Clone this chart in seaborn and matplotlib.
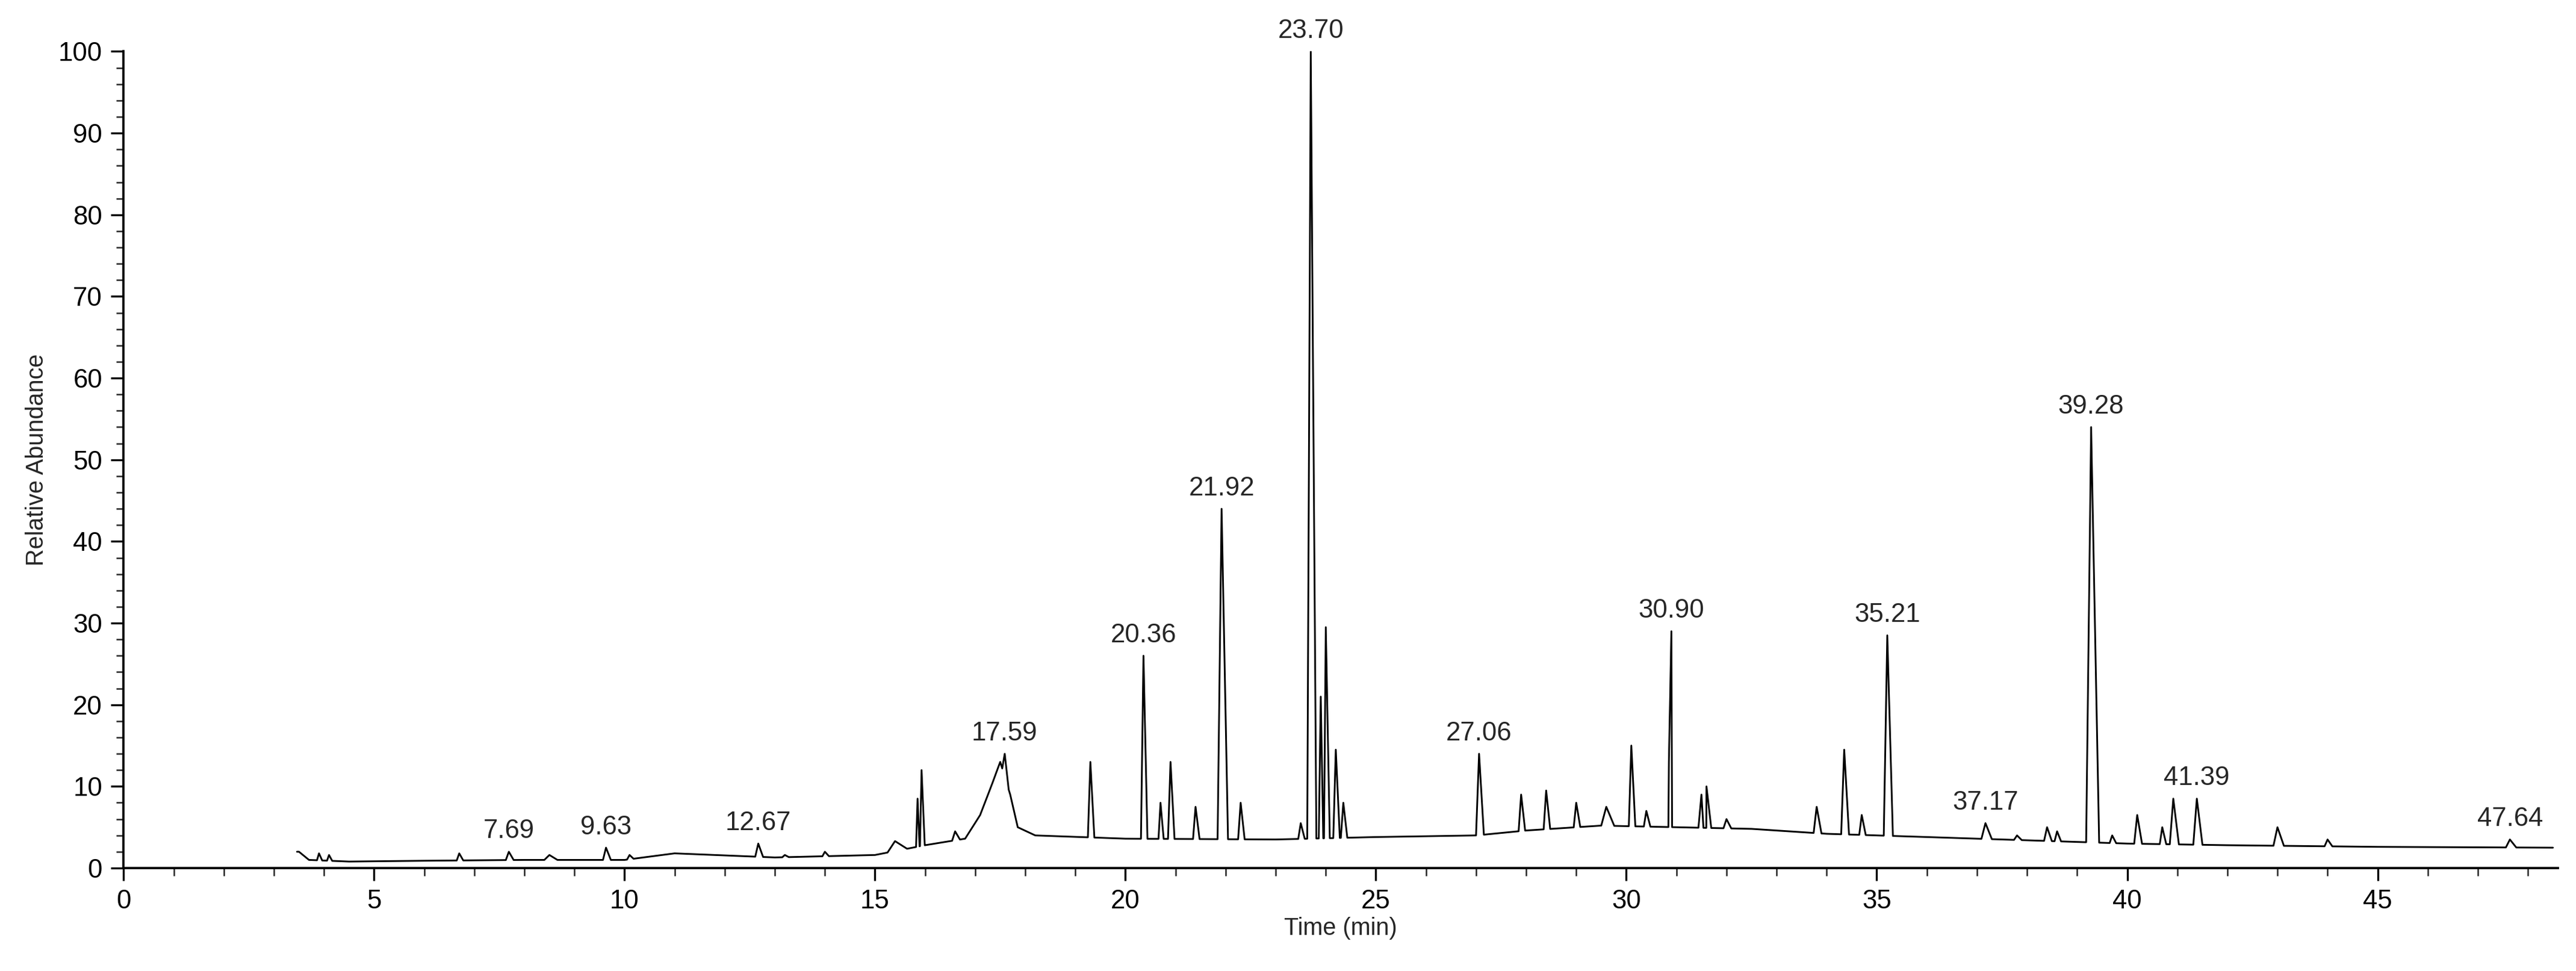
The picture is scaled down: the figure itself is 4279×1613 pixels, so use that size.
import numpy as np
import pandas as pd
import matplotlib
matplotlib.use("Agg")
import matplotlib.pyplot as plt
from matplotlib.ticker import MultipleLocator
import seaborn as sns

# baseline level (min, %), including the broad hump at 17.59
base_t = [3.5, 3.7, 4.5, 6.0, 8.0, 10.0, 11.0, 13.0, 15.0, 16.0, 16.8, 17.1, 17.35, 17.5, 17.7, 17.85, 18.2, 20.0, 23.0, 25.0, 27.0, 28.0, 29.5, 31.0, 32.5, 34.0, 36.0, 38.0, 40.0, 42.0, 45.0, 48.5]
base_y = [2.0, 1.0, 0.8, 0.9, 1.0, 1.0, 1.8, 1.3, 1.6, 2.8, 3.6, 6.5, 10.5, 13.0, 9.0, 5.0, 4.0, 3.6, 3.5, 3.8, 4.0, 4.6, 5.2, 5.0, 4.8, 4.2, 3.8, 3.4, 3.0, 2.8, 2.6, 2.5]

# peaks: retention time, apex height, half width
peak_t = [3.5, 3.9, 4.1, 6.7, 7.69, 8.5, 9.63, 10.1, 11.0, 12.67, 13.2, 14.0, 15.4, 15.85, 15.93, 16.6, 17.59, 19.3, 20.36, 20.7, 20.9, 21.4, 21.92, 22.3, 23.5, 23.70, 23.9, 24.0, 24.2, 24.35, 27.06, 27.9, 28.4, 29.0, 29.6, 30.1, 30.4, 30.85, 30.90, 31.5, 31.6, 32.0, 33.8, 34.35, 34.7, 35.21, 37.17, 37.8, 38.4, 38.6, 39.28, 39.7, 40.2, 40.7, 40.92, 41.39, 43.0, 44.0, 47.64]
peak_h = [2.6, 1.8, 1.6, 1.8, 2.0, 1.6, 2.5, 1.6, 2.3, 3.0, 1.6, 2.0, 3.3, 8.5, 12.0, 4.5, 14.0, 13.0, 26.0, 8.0, 13.0, 7.5, 44.0, 8.0, 5.5, 100.0, 21.0, 29.5, 14.5, 8.0, 14.0, 9.0, 9.5, 8.0, 7.5, 15.0, 7.0, 13.0, 29.0, 9.0, 10.0, 6.0, 7.5, 14.5, 6.5, 28.5, 5.5, 4.0, 5.0, 4.5, 54.0, 4.0, 6.5, 5.0, 8.5, 8.5, 5.0, 3.5, 3.5]
peak_w = [0.04, 0.04, 0.04, 0.05, 0.06, 0.1, 0.06, 0.05, 0.15, 0.06, 0.05, 0.05, 0.15, 0.03, 0.04, 0.06, 0.05, 0.05, 0.05, 0.04, 0.05, 0.05, 0.08, 0.05, 0.05, 0.07, 0.04, 0.05, 0.05, 0.05, 0.06, 0.05, 0.05, 0.05, 0.1, 0.05, 0.05, 0.04, 0.06, 0.06, 0.06, 0.06, 0.06, 0.06, 0.05, 0.07, 0.08, 0.06, 0.06, 0.05, 0.1, 0.05, 0.06, 0.05, 0.07, 0.07, 0.08, 0.06, 0.08]

label_t = [7.69, 9.63, 12.67, 17.59, 20.36, 21.92, 23.70, 27.06, 30.90, 35.21, 37.17, 39.28, 41.39, 47.64]
label_h = [2.0, 2.5, 3.0, 14.0, 26.0, 44.0, 100.0, 14.0, 29.0, 28.5, 5.5, 54.0, 8.5, 3.5]

# assemble polyline vertices from the peak table
xs, ys = list(base_t), list(base_y)
for t, h, w in zip(peak_t, peak_h, peak_w):
    b1 = np.interp(t - w, base_t, base_y)
    b2 = np.interp(t + 1.6 * w, base_t, base_y)
    xs += [t - w, t, t + 1.6 * w]
    ys += [b1, h, b2]
df = pd.DataFrame({"t": xs, "y": ys}).sort_values("t").drop_duplicates("t")

sns.set_theme(style="ticks")
plt.rcParams['font.family'] = ['Liberation Sans', 'DejaVu Sans']

fig = plt.figure(figsize=(4279 / 300, 1613 / 300), dpi=300)
ax = fig.add_axes([0.048, 0.106, 0.945, 0.841])
sns.lineplot(data=df, x="t", y="y", ax=ax, color="black", linewidth=0.7, sort=True)

for t, h in zip(label_t, label_h):
    ax.text(t, h + 1.0, f"{t:.2f}", ha="center", va="bottom", fontsize=10.5)

ax.set_xlim(0, 48.6)
ax.set_ylim(0, 100)
ax.xaxis.set_major_locator(MultipleLocator(5))
ax.xaxis.set_minor_locator(MultipleLocator(1))
ax.yaxis.set_major_locator(MultipleLocator(10))
ax.yaxis.set_minor_locator(MultipleLocator(2))
ax.tick_params(which="major", length=5, width=0.8, labelsize=10.5, colors="black")
ax.tick_params(which="minor", length=3, width=0.6)
for s in ["top", "right"]:
    ax.spines[s].set_visible(False)
for s in ["left", "bottom"]:
    ax.spines[s].set_color("black")
    ax.spines[s].set_linewidth(0.9)
ax.set_xlabel("Time (min)", fontsize=9.5, labelpad=1)
ax.set_ylabel("Relative Abundance", fontsize=9.5, labelpad=4)
fig.savefig("out.png", dpi=300)
